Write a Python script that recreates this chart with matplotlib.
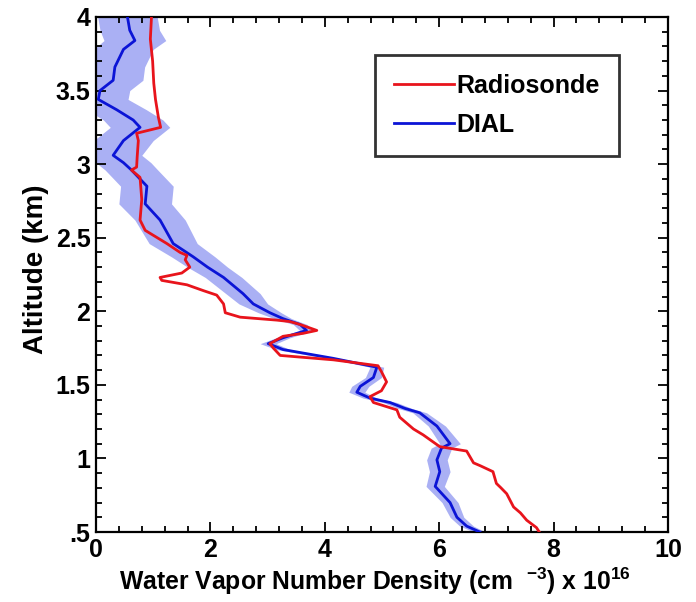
import matplotlib
matplotlib.use("Agg")
import matplotlib.pyplot as plt
import numpy as np
from matplotlib.ticker import MultipleLocator, FixedLocator, FixedFormatter

plt.rcParams['font.family'] = ['Liberation Sans', 'DejaVu Sans']
plt.rcParams['font.weight'] = 'bold'
plt.rcParams['axes.labelweight'] = 'bold'
plt.rcParams['mathtext.fontset'] = 'custom'
plt.rcParams['mathtext.rm'] = 'Liberation Sans:bold'
plt.rcParams['mathtext.bf'] = 'Liberation Sans:bold'
plt.rcParams['mathtext.it'] = 'Liberation Sans:bold'

# Radiosonde profile: water vapor number density (1e16 cm^-3) vs altitude (km)
radio_x = [0.97, 0.95, 0.99, 1.01, 1.04, 1.09, 1.13, 0.71, 0.74, 0.72, 0.71, 0.62, 0.77,
           0.80, 0.77, 0.86, 1.24, 1.47, 1.59, 1.56, 1.64, 1.50, 1.12, 1.15, 1.59, 1.88,
           2.11, 2.23, 2.26, 2.52, 3.16, 3.39, 3.57, 3.86, 3.62, 3.27, 3.04, 3.10, 3.22,
           4.15, 4.93, 4.99, 5.08, 4.99, 4.79, 4.85, 5.26, 5.31, 5.40, 5.55, 5.72, 6.01,
           6.48, 6.60, 6.72, 6.94, 7.00, 7.08, 7.18, 7.30, 7.42, 7.53, 7.70, 7.75]
radio_alt = [4.00, 3.85, 3.70, 3.55, 3.44, 3.32, 3.25, 3.21, 3.16, 3.05, 2.98, 2.96, 2.91,
             2.76, 2.62, 2.55, 2.46, 2.40, 2.38, 2.35, 2.30, 2.26, 2.23, 2.21, 2.18, 2.14,
             2.11, 2.05, 1.99, 1.96, 1.94, 1.93, 1.91, 1.87, 1.85, 1.83, 1.78, 1.75, 1.70,
             1.67, 1.63, 1.59, 1.52, 1.46, 1.42, 1.38, 1.33, 1.28, 1.25, 1.20, 1.16, 1.08,
             1.05, 0.97, 0.95, 0.91, 0.83, 0.80, 0.76, 0.67, 0.63, 0.58, 0.53, 0.50]

# DIAL profile and its uncertainty (half width)
dial_x = [0.55, 0.59, 0.68, 0.48, 0.33, 0.30, 0.07, 0.04, 0.36, 0.65, 0.77, 0.48, 0.30,
          0.48, 0.62, 0.89, 0.86, 1.12, 1.35, 1.70, 1.95, 2.23, 2.57, 2.75, 3.04, 3.27,
          3.57, 3.68, 3.27, 3.01, 3.27, 4.15, 4.91, 4.85, 4.62, 4.56, 4.79, 5.14, 5.40,
          5.66, 5.96, 6.19, 6.04, 5.96, 6.01, 5.93, 6.19, 6.31, 6.48, 6.71]
dial_alt = [4.00, 3.91, 3.84, 3.78, 3.66, 3.57, 3.50, 3.44, 3.37, 3.30, 3.25, 3.16, 3.06,
            3.01, 2.96, 2.85, 2.73, 2.62, 2.46, 2.37, 2.30, 2.23, 2.12, 2.05, 1.99, 1.95,
            1.91, 1.87, 1.82, 1.78, 1.74, 1.68, 1.62, 1.55, 1.49, 1.45, 1.41, 1.38, 1.34,
            1.31, 1.22, 1.10, 1.07, 0.99, 0.91, 0.81, 0.70, 0.60, 0.54, 0.50]
dial_err = [0.52, 0.52, 0.54, 0.52, 0.52, 0.52, 0.52, 0.52, 0.52, 0.52, 0.52, 0.52, 0.50,
            0.48, 0.46, 0.46, 0.46, 0.44, 0.42, 0.38, 0.35, 0.32, 0.30, 0.25, 0.20, 0.15,
            0.12, 0.12, 0.12, 0.14, 0.12, 0.10, 0.12, 0.14, 0.15, 0.14, 0.12, 0.12, 0.12,
            0.12, 0.15, 0.18, 0.18, 0.18, 0.18, 0.16, 0.14, 0.12, 0.12, 0.10]

y_ticks = [0.5, 1, 1.5, 2, 2.5, 3, 3.5, 4]
y_ticklabels = ['.5', '1', '1.5', '2', '2.5', '3', '3.5', '4']
x_ticks = [0, 2, 4, 6, 8, 10]
x_ticklabels = ['0', '2', '4', '6', '8', '10']

fig = plt.figure(figsize=(6.96, 6.02), dpi=100)
ax = fig.add_axes([96/696, 1-532/602, 572/696, 515/602])

dx = np.array(dial_x)
de = np.array(dial_err)
ax.fill_betweenx(dial_alt, dx - de, dx + de, color='#aab0f4', lw=0, zorder=1)
ax.plot(dial_x, dial_alt, color='#0b14d6', lw=2.0, zorder=3, label='DIAL')
ax.plot(radio_x, radio_alt, color='#e8141c', lw=2.0, zorder=4, label='Radiosonde')

ax.set_xlim(0, 10)
ax.set_ylim(0.5, 4)
ax.xaxis.set_major_locator(FixedLocator(x_ticks))
ax.xaxis.set_major_formatter(FixedFormatter(x_ticklabels))
ax.yaxis.set_major_locator(FixedLocator(y_ticks))
ax.yaxis.set_major_formatter(FixedFormatter(y_ticklabels))
ax.xaxis.set_minor_locator(MultipleLocator(0.4))
ax.yaxis.set_minor_locator(MultipleLocator(0.1))
ax.tick_params(which='both', direction='in', top=True, right=True, width=1.3, labelsize=18)
ax.tick_params(which='major', length=7, pad=4)
ax.tick_params(which='minor', length=4)
for s in ax.spines.values():
    s.set_linewidth(1.6)

ax.set_xlabel('Water Vapor Number Density (cm  $^{-3}$) x 10$^{16}$', fontsize=17.8,
              fontweight='bold')
ax.xaxis.set_label_coords(0.488, -0.066)
ax.set_ylabel('Altitude (km)', fontsize=20, fontweight='bold')
ax.yaxis.set_label_coords(-0.083, 0.51)

h, l = ax.get_legend_handles_labels()
leg = ax.legend([h[1], h[0]], [l[1], l[0]], loc='upper left',
                bbox_to_anchor=(0.488, 0.926), fontsize=18, frameon=True,
                fancybox=False, handlelength=2.4, handletextpad=0.1,
                borderpad=0.75, labelspacing=0.6, borderaxespad=0)
leg.get_frame().set_edgecolor('black')
leg.get_frame().set_linewidth(2)

fig.savefig('out.png', dpi=100)
